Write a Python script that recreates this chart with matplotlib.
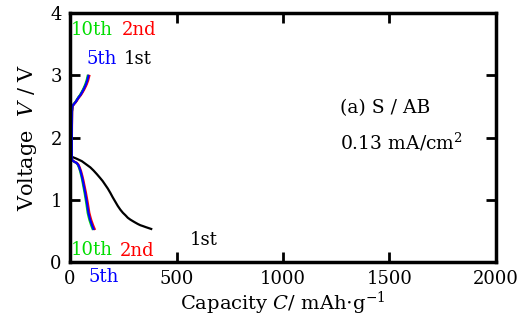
import numpy as np
import matplotlib
matplotlib.use('Agg')
import matplotlib.pyplot as plt

plt.rcParams['font.family'] = ['DejaVu Serif']
plt.rcParams['mathtext.fontset'] = 'dejavuserif'

# charge curves (capacity mAh/g, voltage V)
chg_cap = [8, 8, 9, 11, 16, 26, 39, 48, 55, 63, 70, 75, 81, 86]
chg_volt = [1.64, 2.0, 2.42, 2.50, 2.53, 2.57, 2.64, 2.68, 2.72, 2.77, 2.82, 2.86, 2.92, 2.99]

# 1st discharge (black)
dis1_cap = [8, 30, 55, 79, 95, 110, 126, 141, 153, 165, 177, 189, 200, 212, 224,
            236, 248, 260, 271, 283, 295, 305, 318, 330, 343, 355, 368, 381]
dis1_volt = [1.69, 1.66, 1.62, 1.56, 1.52, 1.47, 1.41, 1.35, 1.30, 1.24, 1.18, 1.11, 1.04, 0.97, 0.90,
             0.84, 0.79, 0.75, 0.71, 0.68, 0.655, 0.635, 0.61, 0.59, 0.575, 0.56, 0.545, 0.53]

# 2nd/5th/10th discharge
dis_cap = [8, 8, 11, 20, 31, 38, 43, 49, 55, 59, 63, 67, 71, 75, 79, 83, 86, 91, 95, 99, 103, 107, 110]
dis_volt = [2.5, 1.66, 1.63, 1.61, 1.59, 1.56, 1.52, 1.46, 1.38, 1.32, 1.25, 1.18, 1.11, 1.03, 0.95, 0.86, 0.79,
            0.72, 0.67, 0.63, 0.59, 0.555, 0.53]
scale_2nd = 1.05
scale_5th = 1.0
scale_10th = 0.96

fig = plt.figure(figsize=(5.27, 3.27), dpi=100)
ax = fig.add_axes([0.133, 0.199, 0.808, 0.761])

# 1st cycle (black) underneath
ax.plot(chg_cap, chg_volt, color='black', lw=1.6)
ax.plot(dis1_cap, dis1_volt, color='black', lw=1.6)
for s, c in [(scale_10th, '#00dd00'), (scale_2nd, 'red'), (scale_5th, 'blue')]:
    ax.plot(np.array(chg_cap) * s, chg_volt, color=c, lw=1.6)
    ax.plot(np.array(dis_cap) * s, dis_volt, color=c, lw=1.6)

ax.set_xlim(0, 2000)
ax.set_ylim(0, 4)
ax.set_xticks([0, 500, 1000, 1500, 2000])
ax.set_yticks([0, 1, 2, 3, 4])
ax.tick_params(direction='in', length=7, width=2, top=True, right=True, labelsize=13, pad=6)
for sp in ax.spines.values():
    sp.set_linewidth(2.5)

ax.set_xlabel('Capacity $C$/ mAh$\\cdot$g$^{\\mathregular{-1}}$', fontsize=14, labelpad=1)
ax.set_ylabel('Voltage  $V$ / V', fontsize=15, labelpad=8)

lbl = dict(fontsize=13, ha='left', va='center')
ax.text(5, 3.72, '10th', color='#00dd00', **lbl)
ax.text(245, 3.72, '2nd', color='red', **lbl)
ax.text(75, 3.26, '5th', color='blue', **lbl)
ax.text(250, 3.26, '1st', color='black', **lbl)
ax.text(5, 0.19, '10th', color='#00dd00', **lbl)
ax.text(235, 0.17, '2nd', color='red', **lbl)
ax.text(560, 0.36, '1st', color='black', **lbl)
ax.text(85, -0.25, '5th', color='blue', **lbl)

ax.text(1270, 2.48, '(a) S / AB', fontsize=13.5, ha='left', va='center')
ax.text(1270, 1.92, '0.13 mA/cm$^{\\mathregular{2}}$', fontsize=13.5, ha='left', va='center')

fig.savefig('out.png', dpi=100)
